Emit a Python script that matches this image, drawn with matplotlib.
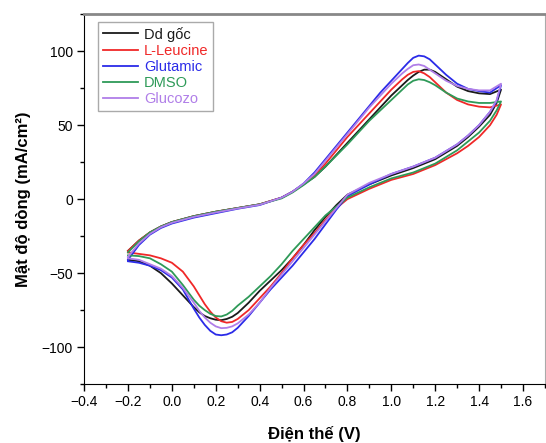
import matplotlib
matplotlib.use("Agg")
import matplotlib.pyplot as plt
from matplotlib.ticker import MultipleLocator

plt.rcParams['font.family'] = ['Liberation Sans', 'DejaVu Sans']

# điện thế quét thuận (-0.2 -> 1.5) và quét ngược (1.5 -> -0.2)
v_fwd = [-0.2, -0.15, -0.1, -0.05, 0.0, 0.1, 0.2, 0.3, 0.4, 0.5, 0.55, 0.6,
         0.65, 0.7, 0.75, 0.8, 0.85, 0.9, 0.95, 1.0, 1.05, 1.075, 1.1, 1.125,
         1.15, 1.175, 1.2, 1.25, 1.3, 1.35, 1.4, 1.45, 1.5]
v_rev = [1.5, 1.48, 1.45, 1.4, 1.35, 1.3, 1.2, 1.1, 1.0, 0.9, 0.8, 0.75, 0.7,
         0.65, 0.6, 0.55, 0.5, 0.45, 0.4, 0.35, 0.3, 0.275, 0.25, 0.225, 0.2,
         0.175, 0.15, 0.125, 0.1, 0.05, 0.0, -0.05, -0.1, -0.15, -0.2]

labels = ["Dd gốc", "L-Leucine", "Glutamic", "DMSO", "Glucozo"]
colors = ["#1a1a1a", "#f02828", "#2b2be8", "#2e9a58", "#b07ee8"]

j_fwd_goc = [-35, -28, -22.5, -18.5, -15.5, -11.5, -8.5, -6, -3.5, 1, 5, 10,
             15, 22, 30, 38, 46, 54, 62, 70, 77, 80.5, 83.5, 86,
             87.5, 87.5, 86, 81, 76, 73, 71.5, 71, 74]
j_rev_goc = [74, 65, 57, 49, 42, 36, 27, 21, 16, 10, 3, -4, -12,
             -21, -31, -40, -48, -55, -62, -70, -77, -79.5, -81, -81.8, -81.5,
             -80.5, -79, -76.5, -73, -65, -57, -50, -45, -42, -41]

j_fwd_leu = [-35, -28, -22.5, -18.5, -15.5, -11.5, -8.5, -6, -3.5, 1, 5, 10,
             16, 24, 33, 42, 50, 58, 66, 74, 81, 84, 86, 86.5,
             85, 82.5, 79, 72, 67, 64, 62.5, 62, 64]
j_rev_leu = [64, 57, 50, 42, 36, 31, 23, 17, 13, 7, 0, -6, -14,
             -23, -31, -40, -50, -59, -67, -75, -81, -83, -83.5, -82.5, -80,
             -76, -71, -65, -59, -49, -43, -40, -38, -37, -36]

j_fwd_glu = [-41, -31, -24, -19.5, -16.5, -12.5, -9.5, -6.5, -4, 1, 5, 10.5,
             18, 27, 36, 45, 54, 63, 72, 80, 88, 92, 95.5, 97,
             96.5, 94.5, 91, 84, 78, 74.5, 73, 72, 77]
j_rev_glu = [77, 66, 59, 50, 43, 37, 28, 22, 17, 10, 2, -7, -17,
             -27, -36, -45, -53, -61, -70, -79, -87, -90, -91.5, -92, -91.5,
             -89, -85, -80, -74, -61, -53, -48, -45, -43, -42]

j_fwd_dmso = [-36, -28.5, -22.5, -18.5, -15.5, -11.5, -8.5, -6, -3.5, 0.5, 4.5, 9.5,
              15, 22, 29.5, 37, 45, 53, 60, 67, 74, 77.5, 80, 81,
              80.5, 79, 77, 72, 68, 66, 65, 65, 66]
j_rev_dmso = [66, 60, 53, 45, 39, 33, 24, 18, 14, 8, 1, -5, -11,
              -19, -27, -35, -44, -52, -59, -66, -72, -75.5, -78, -79.3, -79,
              -77.5, -75, -72, -68, -58, -49, -44, -40, -38.5, -38]

j_fwd_gluc = [-39, -30, -23.5, -19, -16, -12, -9, -6.3, -3.8, 1, 5, 10.5,
              17, 26, 35, 44, 53, 62, 70, 78, 85, 88, 90.5, 91,
              90, 87.5, 85, 80, 76.5, 74.5, 73.5, 73.5, 78]
j_rev_gluc = [78, 67, 59, 50, 43, 37, 28, 22, 17, 11, 3, -6, -15,
              -24, -33, -42, -51, -60, -70, -78, -84, -86, -87, -87.2, -86,
              -83.5, -80, -75.5, -70, -60, -52, -47, -44, -41, -40]

curves = [(j_fwd_goc, j_rev_goc), (j_fwd_leu, j_rev_leu), (j_fwd_glu, j_rev_glu),
          (j_fwd_dmso, j_rev_dmso), (j_fwd_gluc, j_rev_gluc)]

fig = plt.figure(figsize=(5.46, 4.43), dpi=100)
ax = fig.add_axes([0.154, 0.133, 0.844, 0.835])

for (jf, jr), lab, col in zip(curves, labels, colors):
    ax.plot(v_fwd + v_rev, jf + jr, color=col, lw=1.3, label=lab,
            solid_joinstyle='round')

ax.set_xlim(-0.4, 1.7)
ax.set_ylim(-125, 125)
ax.xaxis.set_major_locator(MultipleLocator(0.2))
ax.xaxis.set_minor_locator(MultipleLocator(0.1))
ax.yaxis.set_major_locator(MultipleLocator(50))
ax.yaxis.set_minor_locator(MultipleLocator(25))
ax.xaxis.set_major_formatter(plt.FuncFormatter(lambda v, p: f"{v:.1f}".replace("-", "\u2212")))
ax.tick_params(which='major', direction='out', length=5, width=1, labelsize=10, pad=3)
ax.tick_params(which='minor', direction='out', length=3, width=1)
ax.tick_params(top=False, right=False)

ax.spines['top'].set_color('#888888')
ax.spines['top'].set_linewidth(2)
ax.spines['right'].set_color('#aaaaaa')

ax.set_xlabel("Điện thế (V)", fontsize=12, fontweight='bold', labelpad=12)
ax.set_ylabel("Mật độ dòng (mA/cm²)", fontsize=12, fontweight='bold', labelpad=8)

leg = ax.legend(loc='upper left', bbox_to_anchor=(0.03, 0.98), borderaxespad=0,
                fontsize=10.5, handlelength=2.4, labelspacing=0.15, fancybox=False,
                edgecolor='#aaaaaa', framealpha=1, borderpad=0.35, handletextpad=0.4)
for txt, col in zip(leg.get_texts(), colors):
    txt.set_color(col)

plt.savefig("out.png", dpi=100)
